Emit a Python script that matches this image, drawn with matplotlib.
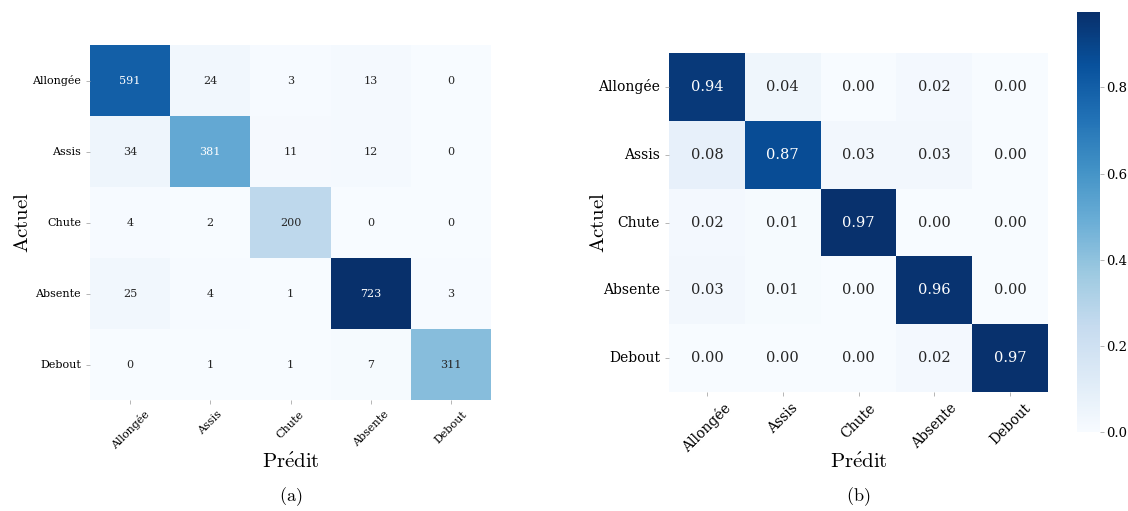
import matplotlib
matplotlib.use('Agg')
import matplotlib.pyplot as plt
import numpy as np
import seaborn as sns

plt.rcParams['mathtext.fontset'] = 'cm'

classes = ['Allongée', 'Assis', 'Chute', 'Absente', 'Debout']

counts = np.array([
    [591, 24, 3, 13, 0],
    [34, 381, 11, 12, 0],
    [4, 2, 200, 0, 0],
    [25, 4, 1, 723, 3],
    [0, 1, 1, 7, 311],
])

norm = np.array([
    [0.94, 0.04, 0.00, 0.02, 0.00],
    [0.08, 0.87, 0.03, 0.03, 0.00],
    [0.02, 0.01, 0.97, 0.00, 0.00],
    [0.03, 0.01, 0.00, 0.96, 0.00],
    [0.00, 0.00, 0.00, 0.02, 0.97],
])

fig = plt.figure(figsize=(11.28, 5.11), dpi=100)
W, H = 1128, 511

def px(x0, y0, x1, y1):
    return [x0 / W, 1 - y1 / H, (x1 - x0) / W, (y1 - y0) / H]

boxes = [(90, 45, 491, 400), (669, 53, 1048, 392)]
ax1 = fig.add_axes(px(*boxes[0]))
ax2 = fig.add_axes(px(*boxes[1]))
cax = fig.add_axes(px(1077, 12, 1100, 432))

serif = 'DejaVu Serif'

sns.heatmap(counts, ax=ax1, cmap='Blues', annot=True, fmt='d', cbar=False,
            annot_kws={'fontsize': 8, 'family': serif},
            xticklabels=classes, yticklabels=classes)
sns.heatmap(norm, ax=ax2, cmap='Blues', annot=True, fmt='.2f', cbar=True, cbar_ax=cax,
            vmin=0, vmax=0.975,
            annot_kws={'fontsize': 10.5, 'family': serif},
            xticklabels=classes, yticklabels=classes)

# label positions in pixels: (xlabel y, ylabel x, panel letter y)
for ax, box, fs, lab, ylx in [(ax1, boxes[0], 8, 'a', 22), (ax2, boxes[1], 10, 'b', 598)]:
    x0, y0, x1, y1 = box
    w, h = x1 - x0, y1 - y0
    ax.tick_params(axis='both', length=3, width=0.6, color='#aaaaaa')
    plt.setp(ax.get_xticklabels(), rotation=45, ha='center', fontsize=fs, family=serif)
    plt.setp(ax.get_yticklabels(), rotation=0, fontsize=fs, family=serif)
    ax.set_xlabel(r'$\mathrm{Pr\acute{e}dit}$', fontsize=15, va='center')
    ax.xaxis.set_label_coords(0.5, (y1 - 462) / h)
    ax.set_ylabel(r'$\mathrm{Actuel}$', fontsize=15, va='center')
    ax.yaxis.set_label_coords((ylx - x0) / w, 0.5)
    fig.text((x0 + x1) / 2 / W, 1 - 497 / H, r'$\mathrm{(%s)}$' % lab,
             ha='center', va='center', fontsize=13)

cax.set_yticks([0.0, 0.2, 0.4, 0.6, 0.8])
cax.tick_params(length=3, width=0.6, color='#aaaaaa', labelsize=9.5, pad=1.5)
for t in cax.get_yticklabels():
    t.set_family(serif)

fig.savefig('out.png', dpi=100)
